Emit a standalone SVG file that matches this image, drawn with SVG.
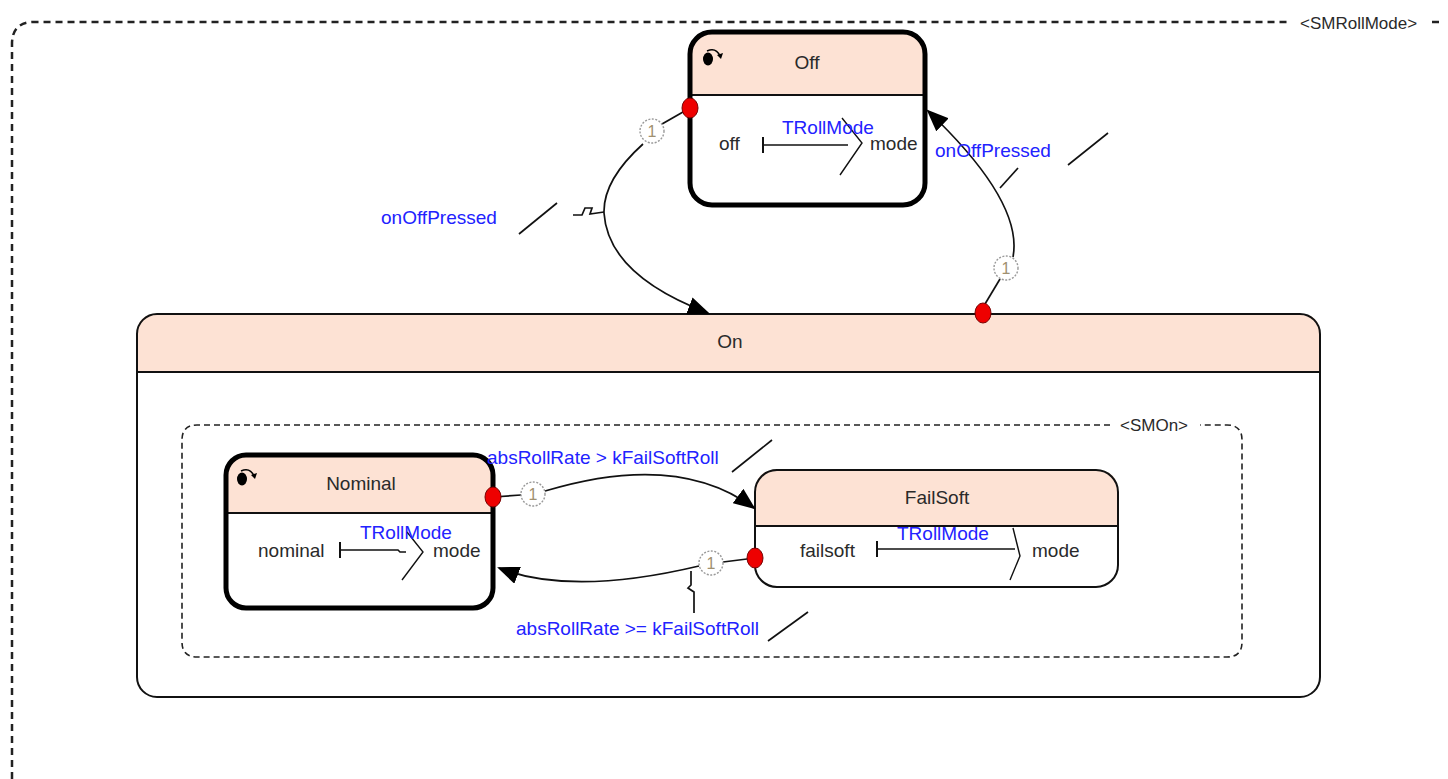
<svg xmlns="http://www.w3.org/2000/svg" width="1448" height="779" viewBox="0 0 1448 779">
<style>
.t{font-family:"Liberation Sans",Arial,sans-serif;font-size:19px;fill:#2a2a2a}
.b{font-family:"Liberation Sans",Arial,sans-serif;font-size:19px;fill:#2222ff}
.hdr{fill:#fde2d4}
.thick{fill:none;stroke:#000;stroke-width:5}
.thin{fill:none;stroke:#111;stroke-width:2}
.tr{fill:none;stroke:#111;stroke-width:1.7}
.dot{fill:#ee0000;stroke:#700;stroke-width:1}
.cnt{fill:#fff;stroke:#999;stroke-width:1.4;stroke-dasharray:2 1.5}
.cn{font-family:"Liberation Sans",Arial,sans-serif;font-size:16px;fill:#a09070}
.frame{fill:none;stroke:#222;stroke-width:2.5;stroke-dasharray:7 5}
.frame2{fill:none;stroke:#222;stroke-width:1.6;stroke-dasharray:6 4}
</style>
<defs>
<marker id="ah" markerWidth="22" markerHeight="18" refX="20" refY="9" orient="auto" markerUnits="userSpaceOnUse">
<path d="M0,0 L22,9 L0,18 Z" fill="#000"/>
</marker>
<g id="init">
<ellipse cx="0" cy="3" rx="5" ry="6.5" fill="#000"/>
<path d="M-1,-5 Q8,-9 12,0" fill="none" stroke="#000" stroke-width="1.6"/>
<path d="M9,-1 L13,3 L15,-3 Z" fill="#000"/>
</g>
</defs>

<g id="SMRollMode">
<path class="frame" d="M12,779 L12,44 Q12,22 34,22 L1288,22"/>
<path class="frame" d="M1432,22 L1444,22"/>
<text class="t" x="1300" y="29" style="font-size:17px">&lt;SMRollMode&gt;</text>
</g>

<g id="Off">
<rect x="690" y="32" width="235" height="173" rx="22" fill="#fff"/>
<path class="hdr" d="M690,95 V54 Q690,32 712,32 H903 Q925,32 925,54 V95 Z"/>
<line x1="690" y1="95" x2="925" y2="95" stroke="#111" stroke-width="2"/>
<rect class="thick" x="690" y="32" width="235" height="173" rx="22"/>
<use href="#init" x="708" y="56"/>
<text class="t" x="807" y="69" text-anchor="middle">Off</text>
<text class="t" x="719" y="150">off</text>
<line x1="763" y1="137" x2="763" y2="153" stroke="#111" stroke-width="2"/>
<line x1="763" y1="145" x2="848" y2="145" stroke="#111" stroke-width="1.6"/>
<polyline points="842,118 862,143 840,175" fill="none" stroke="#111" stroke-width="1.4"/>
<text class="b" x="782" y="134">TRollMode</text>
<text class="t" x="870" y="150">mode</text>
</g>

<g id="On">
<rect x="137" y="314" width="1183" height="383" rx="20" fill="#fff"/>
<path class="hdr" d="M137,372 V334 Q137,314 157,314 H1300 Q1320,314 1320,334 V372 Z"/>
<line x1="137" y1="372" x2="1320" y2="372" stroke="#111" stroke-width="2"/>
<rect class="thin" x="137" y="314" width="1183" height="383" rx="20"/>
<text class="t" x="730" y="348" text-anchor="middle">On</text>
</g>

<g id="SMOn">
<path class="frame2" d="M1110,425 L197,425 Q182,425 182,440 L182,642 Q182,657 197,657 L1227,657 Q1242,657 1242,642 L1242,440 Q1242,425 1227,425 L1200,425"/>
<text class="t" x="1120" y="431" style="font-size:17px">&lt;SMOn&gt;</text>
</g>

<g id="Nominal">
<rect x="226" y="455" width="267" height="153" rx="20" fill="#fff"/>
<path class="hdr" d="M226,513 V475 Q226,455 246,455 H473 Q493,455 493,475 V513 Z"/>
<line x1="226" y1="513" x2="493" y2="513" stroke="#111" stroke-width="2"/>
<rect class="thick" x="226" y="455" width="267" height="153" rx="20"/>
<use href="#init" x="242" y="476"/>
<text class="t" x="361" y="490" text-anchor="middle">Nominal</text>
<text class="t" x="258" y="557">nominal</text>
<line x1="340" y1="542" x2="340" y2="558" stroke="#111" stroke-width="2"/>
<polyline points="340,550 398,550 400,552 406,552" fill="none" stroke="#111" stroke-width="1.6"/>
<polyline points="407,532 423,552 402,580" fill="none" stroke="#111" stroke-width="1.4"/>
<text class="b" x="360" y="539">TRollMode</text>
<text class="t" x="433" y="557">mode</text>
</g>

<g id="FailSoft">
<rect x="755" y="470" width="363" height="117" rx="22" fill="#fff"/>
<path class="hdr" d="M755,526 V492 Q755,470 777,470 H1096 Q1118,470 1118,492 V526 Z"/>
<line x1="755" y1="526" x2="1118" y2="526" stroke="#111" stroke-width="2"/>
<rect class="thin" x="755" y="470" width="363" height="117" rx="22"/>
<text class="t" x="937" y="504" text-anchor="middle">FailSoft</text>
<text class="t" x="800" y="557">failsoft</text>
<line x1="877" y1="541" x2="877" y2="557" stroke="#111" stroke-width="2"/>
<line x1="877" y1="549" x2="1015" y2="549" stroke="#111" stroke-width="1.6"/>
<polyline points="1013,528 1020,556 1010,580" fill="none" stroke="#111" stroke-width="1.4"/>
<text class="b" x="897" y="540">TRollMode</text>
<text class="t" x="1032" y="557">mode</text>
</g>

<g id="connectors">
<!-- Off -> On -->
<line class="tr" x1="690" y1="108" x2="662" y2="124"/>
<path class="tr" d="M643,144 Q603,180 604,213 Q608,275 708,313" marker-end="url(#ah)"/>
<polyline class="tr" points="573,215 582,215 585,208 592,208 590,214 604,212"/>
<line class="tr" x1="519" y1="234" x2="557" y2="203"/>
<text class="b" x="381" y="224">onOffPressed</text>
<ellipse class="dot" cx="690" cy="108" rx="8" ry="10"/>
<circle class="cnt" cx="652" cy="131" r="12"/>
<text class="cn" x="652" y="137" text-anchor="middle">1</text>

<!-- On -> Off -->
<line class="tr" x1="985" y1="304" x2="1000" y2="279"/>
<path class="tr" d="M1013,257 C1020,220 990,170 928,111" marker-end="url(#ah)"/>
<line class="tr" x1="1000" y1="188" x2="1018" y2="168"/>
<line class="tr" x1="1068" y1="165" x2="1108" y2="133"/>
<text class="b" x="935" y="157">onOffPressed</text>
<ellipse class="dot" cx="983" cy="313" rx="8" ry="10"/>
<circle class="cnt" cx="1006" cy="268" r="12"/>
<text class="cn" x="1006" y="274" text-anchor="middle">1</text>

<!-- Nominal -> FailSoft -->
<line class="tr" x1="493" y1="497" x2="521" y2="495"/>
<path class="tr" d="M545,491 C605,473 690,460 754,508" marker-end="url(#ah)"/>
<line class="tr" x1="732" y1="472" x2="772" y2="440"/>
<text class="b" x="487" y="464">absRollRate &gt; kFailSoftRoll</text>
<ellipse class="dot" cx="493" cy="497" rx="8" ry="10"/>
<circle class="cnt" cx="533" cy="494" r="12"/>
<text class="cn" x="533" y="500" text-anchor="middle">1</text>

<!-- FailSoft -> Nominal -->
<line class="tr" x1="755" y1="558" x2="723" y2="562"/>
<path class="tr" d="M699,566 C640,580 560,592 499,568" marker-end="url(#ah)"/>
<polyline class="tr" points="691,571 691,585 688,588 694,592 694,613"/>
<line class="tr" x1="768" y1="641" x2="808" y2="612"/>
<text class="b" x="516" y="635">absRollRate &gt;= kFailSoftRoll</text>
<ellipse class="dot" cx="755" cy="558" rx="8" ry="10"/>
<circle class="cnt" cx="711" cy="563" r="12"/>
<text class="cn" x="711" y="569" text-anchor="middle">1</text>
</g>
</svg>
